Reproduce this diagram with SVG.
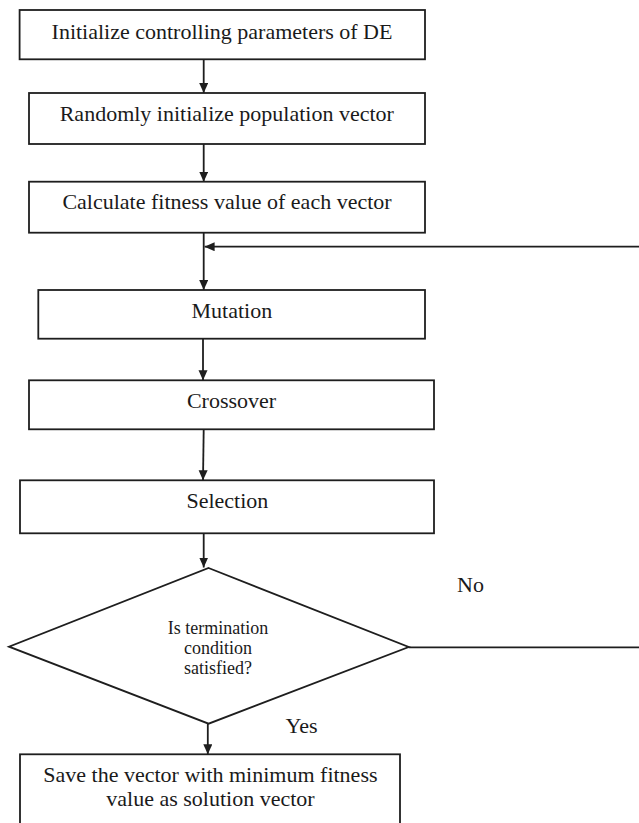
<svg xmlns="http://www.w3.org/2000/svg" width="639" height="823" viewBox="0 0 639 823">
<style>
.box{fill:#fff;stroke:#1e1e1e;stroke-width:1.8}
.ln{fill:none;stroke:#1e1e1e;stroke-width:1.8}
.t{font-family:"Liberation Serif","Times New Roman",serif;font-size:22px;fill:#1a1a1a;text-anchor:middle}
.s{font-size:18px}
</style>
<defs>
<marker id="ah" markerUnits="userSpaceOnUse" markerWidth="10" markerHeight="10" refX="10" refY="4.5" orient="auto">
<path d="M0,0 L10,4.5 L0,9 z" fill="#1e1e1e"/>
</marker>
</defs>
<rect width="639" height="823" fill="#fff"/>
<g id="connectors">
<line class="ln" x1="203.7" y1="59.3" x2="203.7" y2="93" marker-end="url(#ah)"/>
<line class="ln" x1="203.7" y1="144" x2="203.7" y2="181.7" marker-end="url(#ah)"/>
<line class="ln" x1="203.7" y1="232.7" x2="203.7" y2="290" marker-end="url(#ah)"/>
<line class="ln" x1="203" y1="338.7" x2="203" y2="380.3" marker-end="url(#ah)"/>
<line class="ln" x1="203.7" y1="429.3" x2="203" y2="480.3" marker-end="url(#ah)"/>
<line class="ln" x1="203.7" y1="533.3" x2="203.7" y2="567.5" marker-end="url(#ah)"/>
<line class="ln" x1="207.8" y1="723.7" x2="207.8" y2="754.3" marker-end="url(#ah)"/>
<path class="ln" d="M408.7 647.3 H643 V246.7 H204.6" marker-end="url(#ah)"/>
<text class="t" x="470.5" y="591.7">No</text>
<text class="t" x="301.5" y="733.3">Yes</text>
</g>
<g id="n1">
<rect class="box" x="19.6" y="10" width="405.4" height="49.3"/>
<text class="t" x="222" y="39.3">Initialize controlling parameters of DE</text>
</g>
<g id="n2">
<rect class="box" x="29" y="93" width="396" height="51"/>
<text class="t" x="226.8" y="121">Randomly initialize population vector</text>
</g>
<g id="n3">
<rect class="box" x="29" y="181.7" width="396" height="51"/>
<text class="t" x="227" y="209">Calculate fitness value of each vector</text>
</g>
<g id="n4">
<rect class="box" x="38.3" y="290" width="386.7" height="48.7"/>
<text class="t" x="231.9" y="318.3">Mutation</text>
</g>
<g id="n5">
<rect class="box" x="29" y="380.3" width="405" height="49"/>
<text class="t" x="231.5" y="407.7">Crossover</text>
</g>
<g id="n6">
<rect class="box" x="20" y="480.3" width="414" height="53"/>
<text class="t" x="227.4" y="507.7">Selection</text>
</g>
<g id="n7">
<polygon class="box" points="208.6,568 408.7,647 208.6,723.7 9,646.7"/>
<text class="t s" x="218" y="634.3">Is termination</text>
<text class="t s" x="218" y="654.3">condition</text>
<text class="t s" x="218" y="674.3">satisfied?</text>
</g>
<g id="n8">
<rect class="box" x="20" y="754.3" width="380" height="80"/>
<text class="t" x="210.4" y="781.7">Save the vector with minimum fitness</text>
<text class="t" x="210.5" y="805.7">value as solution vector</text>
</g>
</svg>
